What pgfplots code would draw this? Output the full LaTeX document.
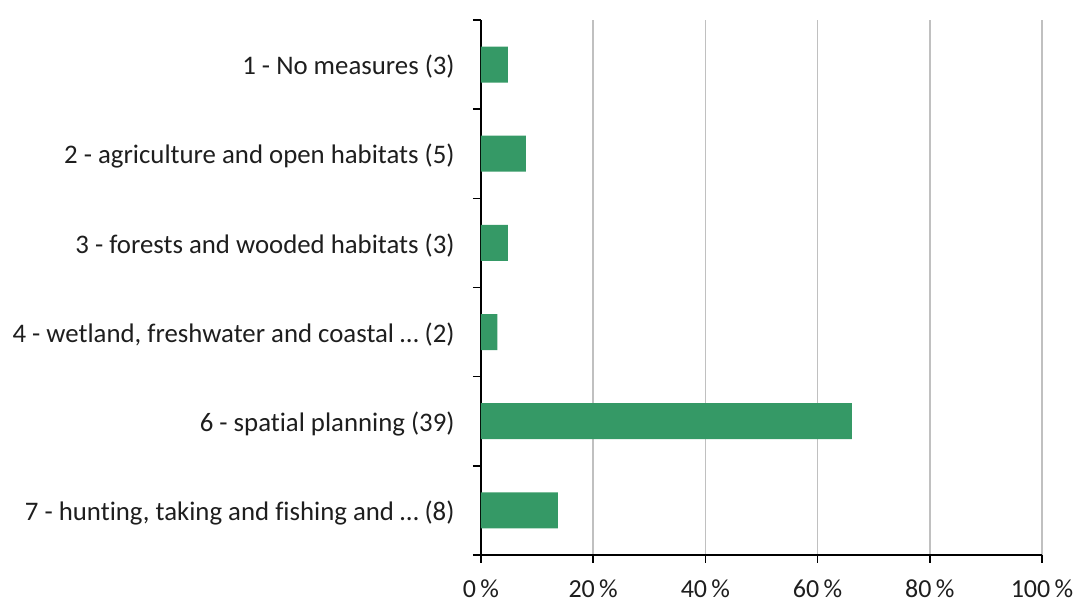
\documentclass[border=0pt]{standalone}
\usepackage{pgfplots}
\pgfplotsset{compat=1.18}
\usepackage{fontspec}
\setmainfont{Carlito}[Ligatures=NoCommon]
\definecolor{barg}{RGB}{53,153,102}
\definecolor{gridg}{RGB}{192,192,192}
\definecolor{txt}{RGB}{30,30,30}
\begin{document}
\begin{tikzpicture}
\path[use as bounding box] (-240.5pt,-24pt) rectangle (298pt,277.5pt);
\begin{axis}[
  at={(0,0)}, anchor=south west,
  scale only axis,
  width=280.5pt, height=267.5pt,
  xmin=0, xmax=100,
  ymin=-0.5, ymax=5.5,
  enlargelimits=false,
  axis lines*=left,
  axis line style={black, line width=0.75pt},
  xtick={0,20,40,60,80,100},
  xticklabels={0\,\%,20\,\%,40\,\%,60\,\%,80\,\%,100\,\%},
  xmajorgrids,
  grid style={gridg, line width=0.75pt},
  tick align=outside,
  major tick length=4pt,
  tick style={black, line width=0.75pt},
  x tick label style={font=\fontsize{13}{15}\selectfont, text=txt, yshift=-5pt},
  ytick={-0.5,0.5,1.5,2.5,3.5,4.5,5.5},
  yticklabels={},
  extra y ticks={0,1,2,3,4,5},
  extra y tick labels={
    {7 - hunting, taking and fishing and \ldots{} (8)},
    {6 - spatial planning (39)},
    {4 - wetland, freshwater and coastal \ldots{} (2)},
    {3 - forests and wooded habitats (3)},
    {2 - agriculture and open habitats (5)},
    {1 - No measures (3)}},
  extra y tick style={major tick length=0pt, tick style={draw=none},
    yticklabel style={anchor=east, inner sep=0pt, xshift=-13pt, yshift=-1.2pt}},
  y tick label style={font=\fontsize{13.4}{15}\selectfont, text=txt},
]
\addplot[xbar, bar width=18pt, fill=barg, draw=none] coordinates {
  (13.7,0) (66.1,1) (2.9,2) (4.8,3) (8.0,4) (4.8,5)
};
\end{axis}
\end{tikzpicture}
\end{document}
